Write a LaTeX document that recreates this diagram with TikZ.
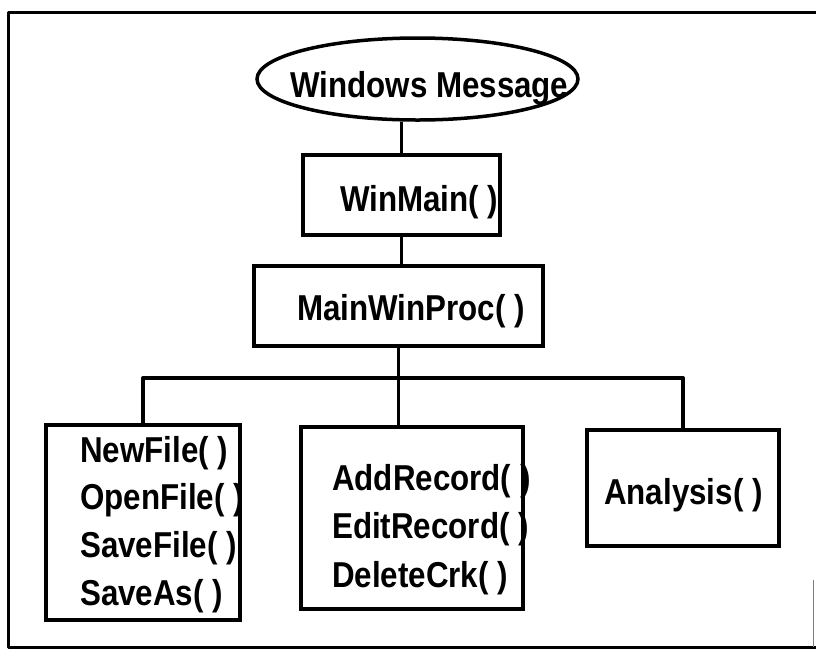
\documentclass[tikz,border=0pt]{standalone}
\usepackage{fontspec}
\setmainfont{Liberation Sans}[FakeStretch=0.87]
\usetikzlibrary{shapes.geometric}
\begin{document}
\begin{tikzpicture}[x=1pt,y=-1pt,
  frame/.style={line width=3pt, line join=round, line cap=round},
  box/.style={draw, line width=3.5pt, inner sep=0pt},
  conn/.style={line width=3.4pt},
  lbl/.style={font=\fontsize{36}{42}\selectfont\bfseries, inner sep=0pt, anchor=base west}]
\useasboundingbox (0,0) rectangle (816,657);
% outer frame
\coordinate (ftr) at (816,12);
\coordinate (ftl) at (8,12);
\coordinate (fbl) at (8,647);
\coordinate (fbr) at (816,647);
\coordinate (fside) at (813,580);
\draw[frame] (ftr) -- (ftl) -- (fbl) -- (fbr);
\draw[line width=0.8pt, gray] (fside) -- (fside |- fbr);
% nodes
\node[box, ellipse, minimum width=321pt, minimum height=82pt] (wm) at (417.5,79) {};
\node[lbl] (wmtext) at (290,97) {Windows Message};
\node[box, minimum width=197pt, minimum height=80pt] (winmain) at (401.5,195) {};
\node[lbl] (winmaintext) at (340,211) {WinMain( )};
\node[box, minimum width=289pt, minimum height=80pt] (mwp) at (398.5,306) {};
\node[lbl] (mwptext) at (297,320) {MainWinProc( )};
\node[box, minimum width=194pt, minimum height=195pt] (left) at (143,522.5) {};
\node[lbl] (f1) at (80,462) {NewFile( )};
\node[lbl] (f2) at (80,509) {OpenFile( )};
\node[lbl] (f3) at (80,557) {SaveFile( )};
\node[lbl] (f4) at (80,605) {SaveAs( )};
\node[box, minimum width=222pt, minimum height=182pt] (mid) at (412,518) {};
\node[lbl] (r1) at (332,490) {AddRecord( )};
\node[lbl] (r2) at (332,538) {EditRecord( )};
\node[lbl] (r3) at (332,587) {DeleteCrk( )};
\node[box, minimum width=192pt, minimum height=116pt] (right) at (683,488) {};
\node[lbl] (an) at (604,504) {Analysis( )};
% connectors
\coordinate (bar) at (399,378);
\draw[conn] (winmain.north) -- (winmain.north |- wm.south);
\draw[conn] (winmain.south) -- (winmain.south |- mwp.north);
\draw[conn] (mwp.south) -- (mwp.south |- mid.north);
\draw[conn, line join=round] (left.north) -- (left.north |- bar) -- (right.north |- bar) -- (right.north);
\end{tikzpicture}
\end{document}
